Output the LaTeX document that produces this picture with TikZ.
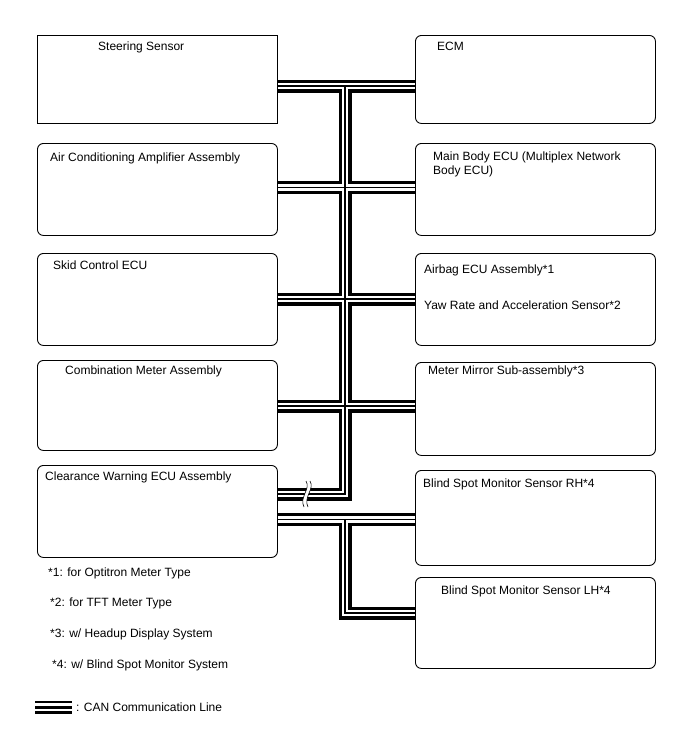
\documentclass[tikz,border=0pt]{standalone}
\usepackage{fontspec}
\setmainfont{Liberation Sans}
\begin{document}
\begin{tikzpicture}[x=1pt,y=-1pt,
  box/.style={draw=black,line width=0.9pt,rounded corners=6pt,minimum width=240pt,anchor=north west,inner sep=0pt},
  sqbox/.style={box,sharp corners},
  txt/.style={anchor=base west,inner sep=0pt,font=\fontsize{12}{14}\selectfont},
  canouter/.style={line width=13pt,black,line join=miter},
  caninner/.style={line width=6.6pt,white,line join=miter},
  cancenter/.style={line width=1.5pt,black,line join=miter},
  legbar/.style={line width=2.8pt,black}]
\fill[white] (0,0) rectangle (688,755);
\useasboundingbox (0,0) rectangle (688,755);

% left column
\node[sqbox,minimum height=88pt] (L1) at (37,35) {};
\node[box,minimum height=92pt] (L2) at (37,143) {};
\node[box,minimum height=92pt] (L3) at (37,253) {};
\node[box,minimum height=90pt] (L4) at (37,360) {};
\node[box,minimum height=92pt] (L5) at (37,465) {};
% right column
\node[box,minimum height=88pt] (R1) at (415,35) {};
\node[box,minimum height=92pt] (R2) at (415,143) {};
\node[box,minimum height=92pt] (R3) at (415,253) {};
\node[box,minimum height=93pt] (R4) at (415,362) {};
\node[box,minimum height=95pt] (R5) at (415,470) {};
\node[box,minimum height=91pt] (R6) at (415,577) {};

% texts
\node[txt] (tL1) at (98,50.3) {Steering Sensor};
\node[txt] (tR1) at (437,50.3) {ECM};
\node[txt] (tL2) at (50,161.3) {Air Conditioning Amplifier Assembly};
\node[txt] (tR2a) at (433,160.3) {Main Body ECU (Multiplex Network};
\node[txt] (tR2b) at (433,174.3) {Body ECU)};
\node[txt] (tL3) at (53,269.3) {Skid Control ECU};
\node[txt] (tR3a) at (424,273.3) {Airbag ECU Assembly*1};
\node[txt] (tR3b) at (424,309.3) {Yaw Rate and Acceleration Sensor*2};
\node[txt] (tL4) at (65,374.3) {Combination Meter Assembly};
\node[txt] (tR4) at (428,374.3) {Meter Mirror Sub-assembly*3};
\node[txt] (tL5) at (45,480.3) {Clearance Warning ECU Assembly};
\node[txt] (tR5) at (423,487.3) {Blind Spot Monitor Sensor RH*4};
\node[txt] (tR6) at (441,594.3) {Blind Spot Monitor Sensor LH*4};
\node[txt] (n1) at (48,576.3) {*1: for Optitron Meter Type};
\node[txt] (n2) at (50,606.3) {*2: for TFT Meter Type};
\node[txt] (n3) at (50,637.3) {*3: w/ Headup Display System};
\node[txt] (n4) at (52,668.3) {*4: w/ Blind Spot Monitor System};
\node[txt] (leg) at (76,711.3) {: CAN Communication Line};

% bus coordinates
\coordinate (b1) at (345,86);
\coordinate (b2) at (345,187.5);
\coordinate (b3) at (345,299);
\coordinate (b4) at (345,406);
\coordinate (b5) at (345,494);
\coordinate (b6) at (345,519.5);
\coordinate (b7) at (345,613);

\foreach \lay in {canouter,caninner,cancenter}{
  \draw[\lay] (L1.east |- b1) -- (R1.west |- b1);
  \draw[\lay] (L2.east |- b2) -- (R2.west |- b2);
  \draw[\lay] (L3.east |- b3) -- (R3.west |- b3);
  \draw[\lay] (L4.east |- b4) -- (R4.west |- b4);
  \draw[\lay] (b1) -- (b5) -- (L5.east |- b5);
  \draw[\lay] (L5.east |- b6) -- (R5.west |- b6);
  \draw[\lay] (b6) -- (b7) -- (R6.west |- b7);
}

% break mark
\fill[white] (306,481) .. controls (311,489) and (299,497) .. (304,507)
   -- (308,507) .. controls (303,497) and (315,489) .. (310,481) -- cycle;
\draw[line width=0.6pt] (306,481) .. controls (311,489) and (299,497) .. (304,507);
\draw[line width=0.6pt] (310,481) .. controls (315,489) and (303,497) .. (308,507);

% legend sample
\coordinate (lg1) at (35,702);
\coordinate (lg2) at (72,702);
\draw[legbar] (lg1) -- (lg2);
\draw[legbar] ([yshift=-5.3pt]lg1) -- ([yshift=-5.3pt]lg2);
\draw[legbar] ([yshift=-10.6pt]lg1) -- ([yshift=-10.6pt]lg2);
\end{tikzpicture}
\end{document}
